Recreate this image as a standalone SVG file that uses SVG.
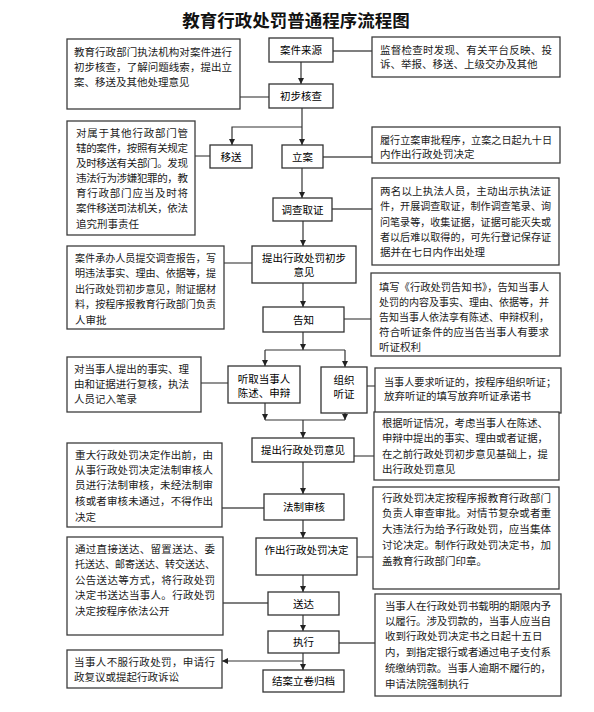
<svg xmlns="http://www.w3.org/2000/svg" width="594" height="712" viewBox="0 0 594 712">
<style>
  .bg{fill:#ffffff}
  .box{fill:#ffffff;stroke:#333333;stroke-width:1.3}
  .side{fill:#ffffff;stroke:#3c3c3c;stroke-width:1.3}
  .lbl{font-family:"Noto Sans CJK SC","Noto Sans",sans-serif;font-size:10.5px;font-weight:normal;fill:#000000;text-anchor:middle}
  .txt{font-family:"Noto Sans CJK SC","Noto Sans",sans-serif;font-size:10.5px;fill:#1a1a1a}
  .title{font-family:"Noto Sans CJK SC","Noto Sans",sans-serif;font-size:17.5px;font-weight:bold;fill:#111111;text-anchor:middle}
  .arr{fill:none;stroke:#333333;stroke-width:1.2;marker-end:url(#ah)}
  .ln{fill:none;stroke:#333333;stroke-width:1.2}
  .sl{fill:none;stroke:#555555;stroke-width:1.3}
</style>
<defs>
  <marker id="ah" markerUnits="userSpaceOnUse" markerWidth="8" markerHeight="8" refX="6" refY="3" orient="auto">
    <path d="M0,0 L6,3 L0,6 Z" fill="#222222"/>
  </marker>
</defs>
<rect class="bg" x="0" y="0" width="594" height="712"/>
<text class="title" x="296" y="27">教育行政处罚普通程序流程图</text>

<g id="connectors">
  <path class="arr" d="M301,62 V84"/>
  <path class="sl" d="M333,51 H372"/>
  <path class="sl" d="M240,97 H269"/>
  <path class="arr" d="M302,108 V145"/>
  <path class="arr" d="M302,127 H232 V145"/>
  <path class="sl" d="M195,156 H210"/>
  <path class="sl" d="M323,157 H372"/>
  <path class="arr" d="M302,168 V198"/>
  <path class="sl" d="M332,209 H372"/>
  <path class="arr" d="M303,221 V246"/>
  <path class="sl" d="M224,263 H252"/>
  <path class="arr" d="M303,283 V307"/>
  <path class="sl" d="M344,319 H371"/>
  <path class="arr" d="M303,332 V350"/>
  <path class="ln" d="M265,350 H345"/>
  <path class="arr" d="M265,350 V366"/>
  <path class="arr" d="M345,350 V367"/>
  <path class="sl" d="M201,383 H228"/>
  <path class="sl" d="M367,386 H375"/>
  <path class="arr" d="M265,403 V420"/>
  <path class="arr" d="M345,413 V420"/>
  <path class="ln" d="M265,420 H345"/>
  <path class="arr" d="M303,420 V438"/>
  <path class="sl" d="M354,456 H374"/>
  <path class="arr" d="M303,462 V494"/>
  <path class="sl" d="M222,508 H264"/>
  <path class="arr" d="M303,520 V538"/>
  <path class="sl" d="M357,557 H373"/>
  <path class="arr" d="M303,575 V592"/>
  <path class="sl" d="M223,603 H268"/>
  <path class="arr" d="M303,615 V631"/>
  <path class="sl" d="M339,643 H375"/>
  <path class="arr" d="M303,653 V670"/>
  <path class="arr" d="M303,661 H222"/>
</g>

<g id="n_source"><rect class="box" x="269" y="38" width="64" height="24"/><text class="lbl" x="301" y="54">案件来源</text></g>
<g id="n_check"><rect class="box" x="269" y="84" width="64" height="24"/><text class="lbl" x="301" y="100">初步核查</text></g>
<g id="n_transfer"><rect class="box" x="210" y="145" width="42" height="23"/><text class="lbl" x="231" y="160.5">移送</text></g>
<g id="n_file"><rect class="box" x="282" y="145" width="41" height="23"/><text class="lbl" x="302.5" y="160.5">立案</text></g>
<g id="n_invest"><rect class="box" x="273" y="198" width="59" height="23"/><text class="lbl" x="302.5" y="213.5">调查取证</text></g>
<g id="n_prelim"><rect class="box" x="252" y="246" width="104" height="37"/><text class="lbl" x="304" y="262">提出行政处罚初步</text><text class="lbl" x="304" y="276">意见</text></g>
<g id="n_notify"><rect class="box" x="263" y="307" width="81" height="25"/><text class="lbl" x="303.5" y="323.5">告知</text></g>
<g id="n_hear"><rect class="box" x="228" y="366" width="72" height="37"/><text class="lbl" x="264" y="383">听取当事人</text><text class="lbl" x="264" y="397">陈述、申辩</text></g>
<g id="n_org"><rect class="box" x="321" y="367" width="46" height="46"/><text class="lbl" x="344" y="384">组织</text><text class="lbl" x="344" y="398">听证</text></g>
<g id="n_opinion"><rect class="box" x="252" y="438" width="102" height="24"/><text class="lbl" x="303" y="454">提出行政处罚意见</text></g>
<g id="n_legal"><rect class="box" x="264" y="494" width="80" height="26"/><text class="lbl" x="304" y="511">法制审核</text></g>
<g id="n_decide"><rect class="box" x="256" y="538" width="101" height="37"/><text class="lbl" x="306.5" y="554">作出行政处罚决定</text></g>
<g id="n_deliver"><rect class="box" x="268" y="592" width="71" height="23"/><text class="lbl" x="303.5" y="607.5">送达</text></g>
<g id="n_exec"><rect class="box" x="268" y="631" width="71" height="22"/><text class="lbl" x="303.5" y="646">执行</text></g>
<g id="n_archive"><rect class="box" x="263" y="670" width="81" height="22"/><text class="lbl" x="303.5" y="685">结案立卷归档</text></g>

<g id="s_check">
  <rect class="side" x="67" y="39" width="173" height="70"/>
  <text class="txt" x="74" y="56" textLength="158" lengthAdjust="spacing">教育行政部门执法机构对案件进行</text>
  <text class="txt" x="74" y="71" textLength="158" lengthAdjust="spacing">初步核查，了解问题线索，提出立</text>
  <text class="txt" x="74" y="86">案、移送及其他处理意见</text>
</g>
<g id="s_source">
  <rect class="side" x="372" y="37" width="188" height="40"/>
  <text class="txt" x="380" y="54" textLength="172" lengthAdjust="spacing">监督检查时发现、有关平台反映、投</text>
  <text class="txt" x="380" y="68">诉、举报、移送、上级交办及其他</text>
</g>
<g id="s_transfer">
  <rect class="side" x="67" y="121" width="128" height="114"/>
  <text class="txt" x="76" y="137" textLength="112" lengthAdjust="spacing">对属于其他行政部门管</text>
  <text class="txt" x="76" y="152" textLength="112" lengthAdjust="spacing">辖的案件，按照有关规定</text>
  <text class="txt" x="76" y="167" textLength="112" lengthAdjust="spacing">及时移送有关部门。发现</text>
  <text class="txt" x="76" y="182" textLength="112" lengthAdjust="spacing">违法行为涉嫌犯罪的，教</text>
  <text class="txt" x="76" y="197" textLength="112" lengthAdjust="spacing">育行政部门应当及时将</text>
  <text class="txt" x="76" y="212" textLength="112" lengthAdjust="spacing">案件移送司法机关，依法</text>
  <text class="txt" x="76" y="228">追究刑事责任</text>
</g>
<g id="s_file">
  <rect class="side" x="372" y="127" width="188" height="36"/>
  <text class="txt" x="380" y="144" textLength="172" lengthAdjust="spacingAndGlyphs">履行立案审批程序，立案之日起九十日</text>
  <text class="txt" x="380" y="158">内作出行政处罚决定</text>
</g>
<g id="s_invest">
  <rect class="side" x="372" y="178" width="187" height="87"/>
  <text class="txt" x="380" y="195" textLength="171" lengthAdjust="spacing">两名以上执法人员，主动出示执法证</text>
  <text class="txt" x="380" y="210" textLength="171" lengthAdjust="spacingAndGlyphs">件，开展调查取证，制作调查笔录、询</text>
  <text class="txt" x="380" y="226" textLength="171" lengthAdjust="spacingAndGlyphs">问笔录等，收集证据，证据可能灭失或</text>
  <text class="txt" x="380" y="241" textLength="171" lengthAdjust="spacingAndGlyphs">者以后难以取得的，可先行登记保存证</text>
  <text class="txt" x="380" y="256">据并在七日内作出处理</text>
</g>
<g id="s_prelim">
  <rect class="side" x="67" y="246" width="157" height="83"/>
  <text class="txt" x="75" y="262" textLength="141" lengthAdjust="spacingAndGlyphs">案件承办人员提交调查报告，写</text>
  <text class="txt" x="75" y="277" textLength="141" lengthAdjust="spacingAndGlyphs">明违法事实、理由、依据等，提</text>
  <text class="txt" x="75" y="293" textLength="141" lengthAdjust="spacingAndGlyphs">出行政处罚初步意见，附证据材</text>
  <text class="txt" x="75" y="308" textLength="141" lengthAdjust="spacingAndGlyphs">料，按程序报教育行政部门负责</text>
  <text class="txt" x="75" y="324">人审批</text>
</g>
<g id="s_notify">
  <rect class="side" x="371" y="273" width="189" height="83"/>
  <text class="txt" x="379" y="291" textLength="170" lengthAdjust="spacingAndGlyphs">填写《行政处罚告知书》，告知当事人</text>
  <text class="txt" x="379" y="306" textLength="170" lengthAdjust="spacingAndGlyphs">处罚的内容及事实、理由、依据等，并</text>
  <text class="txt" x="379" y="321" textLength="170" lengthAdjust="spacingAndGlyphs">告知当事人依法享有陈述、申辩权利，</text>
  <text class="txt" x="379" y="336" textLength="170" lengthAdjust="spacing">符合听证条件的应当告当事人有要求</text>
  <text class="txt" x="379" y="351">听证权利</text>
</g>
<g id="s_hear">
  <rect class="side" x="67" y="357" width="134" height="55"/>
  <text class="txt" x="74" y="373" textLength="115" lengthAdjust="spacing">对当事人提出的事实、理</text>
  <text class="txt" x="74" y="388" textLength="115" lengthAdjust="spacing">由和证据进行复核，执法</text>
  <text class="txt" x="74" y="403">人员记入笔录</text>
</g>
<g id="s_org">
  <rect class="side" x="375" y="368" width="186" height="45"/>
  <text class="txt" x="384" y="386" textLength="172" lengthAdjust="spacingAndGlyphs">当事人要求听证的，按程序组织听证；</text>
  <text class="txt" x="384" y="400">放弃听证的填写放弃听证承诺书</text>
</g>
<g id="s_opinion">
  <rect class="side" x="374" y="412" width="185" height="68"/>
  <text class="txt" x="382" y="427" textLength="166" lengthAdjust="spacingAndGlyphs">根据听证情况，考虑当事人在陈述、</text>
  <text class="txt" x="382" y="442" textLength="166" lengthAdjust="spacingAndGlyphs">申辩中提出的事实、理由或者证据，</text>
  <text class="txt" x="382" y="458" textLength="166" lengthAdjust="spacingAndGlyphs">在之前行政处罚初步意见基础上，提</text>
  <text class="txt" x="382" y="473">出行政处罚意见</text>
</g>
<g id="s_legal">
  <rect class="side" x="67" y="443" width="155" height="84"/>
  <text class="txt" x="75" y="459" textLength="138" lengthAdjust="spacing">重大行政处罚决定作出前，由</text>
  <text class="txt" x="75" y="474" textLength="138" lengthAdjust="spacing">从事行政处罚决定法制审核人</text>
  <text class="txt" x="75" y="489" textLength="138" lengthAdjust="spacing">员进行法制审核，未经法制审</text>
  <text class="txt" x="75" y="505" textLength="138" lengthAdjust="spacing">核或者审核未通过，不得作出</text>
  <text class="txt" x="75" y="521">决定</text>
</g>
<g id="s_decide">
  <rect class="side" x="373" y="487" width="186" height="102"/>
  <text class="txt" x="382" y="502" textLength="169" lengthAdjust="spacing">行政处罚决定按程序报教育行政部门</text>
  <text class="txt" x="382" y="517" textLength="169" lengthAdjust="spacing">负责人审查审批。对情节复杂或者重</text>
  <text class="txt" x="382" y="533" textLength="169" lengthAdjust="spacing">大违法行为给予行政处罚，应当集体</text>
  <text class="txt" x="382" y="549" textLength="169" lengthAdjust="spacing">讨论决定。制作行政处罚决定书，加</text>
  <text class="txt" x="382" y="565">盖教育行政部门印章。</text>
</g>
<g id="s_deliver">
  <rect class="side" x="67" y="537" width="156" height="98"/>
  <text class="txt" x="75" y="553" textLength="140" lengthAdjust="spacing">通过直接送达、留置送达、委</text>
  <text class="txt" x="75" y="568" textLength="140" lengthAdjust="spacingAndGlyphs">托送达、邮寄送达、转交送达、</text>
  <text class="txt" x="75" y="584" textLength="140" lengthAdjust="spacing">公告送达等方式，将行政处罚</text>
  <text class="txt" x="75" y="599" textLength="140" lengthAdjust="spacing">决定书送达当事人。行政处罚</text>
  <text class="txt" x="75" y="615">决定按程序依法公开</text>
</g>
<g id="s_exec">
  <rect class="side" x="375" y="594" width="186" height="102"/>
  <text class="txt" x="385" y="610" textLength="166" lengthAdjust="spacing">当事人在行政处罚书载明的期限内予</text>
  <text class="txt" x="385" y="625" textLength="166" lengthAdjust="spacing">以履行。涉及罚款的，当事人应当自</text>
  <text class="txt" x="385" y="640">收到行政处罚决定书之日起十五日</text>
  <text class="txt" x="385" y="656" textLength="166" lengthAdjust="spacing">内，到指定银行或者通过电子支付系</text>
  <text class="txt" x="385" y="672" textLength="166" lengthAdjust="spacing">统缴纳罚款。当事人逾期不履行的，</text>
  <text class="txt" x="385" y="688">申请法院强制执行</text>
</g>
<g id="s_appeal">
  <rect class="side" x="67" y="650" width="155" height="38"/>
  <text class="txt" x="74" y="666" textLength="141" lengthAdjust="spacing">当事人不服行政处罚，申请行</text>
  <text class="txt" x="74" y="681">政复议或提起行政诉讼</text>
</g>
</svg>
